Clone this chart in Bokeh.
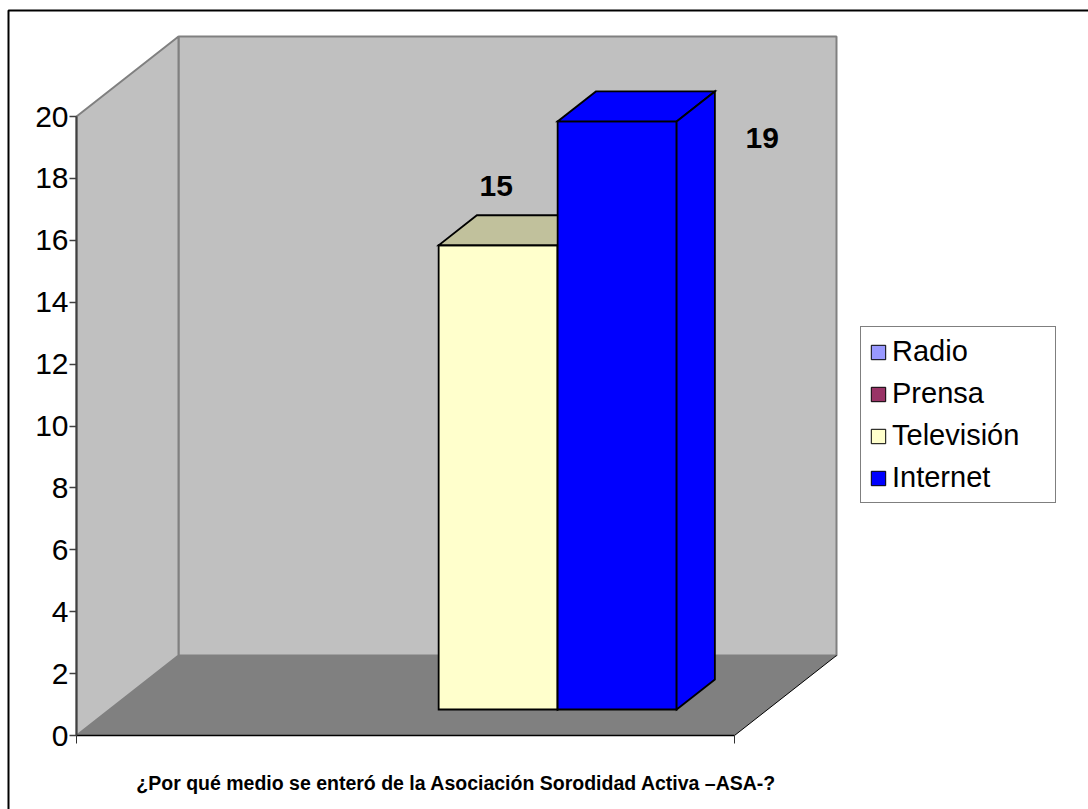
import numpy as np
from bokeh.plotting import figure
from bokeh.models import (ColumnDataSource, LinearAxis, FixedTicker, Legend,
                          LegendItem, Label)
from bokeh.core.properties import value
from bokeh.embed import file_html
from bokeh.resources import INLINE

# ---------------- data ----------------
categories = ["Radio", "Prensa", "Televisión", "Internet"]
counts = [0, 0, 15, 19]
y_ticks = [0, 2, 4, 6, 8, 10, 12, 14, 16, 18, 20]
title_text = "¿Por qué medio se enteró de la Asociación Sorodidad Activa –ASA-?"

# ---------------- styles ----------------
front_colors = ["#9999FF", "#993366", "#FFFFCC", "#0000FF"]
top_colors = ["#7474C2", "#742650", "#C1C19C", "#0000FF"]
side_colors = ["#7474C2", "#742650", "#C1C19C", "#0000FF"]
label_dx = [0, 0, -2, 145]      # px offsets of value labels
label_dy = [0, 0, -59, 17]

W, H = 1088, 809
AX_L, AX_R = 76, 734            # front plane, category span (px)
Y0, Y20 = 735, 116              # pixel rows of 0 and 20
PPU_Y = (Y0 - Y20) / 20.0
PPU_X = float(AX_R - AX_L)
x_start, x_end = -AX_L / PPU_X, (W - AX_L) / PPU_X
y_start, y_end = -(H - Y0) / PPU_Y, Y0 / PPU_Y
DX, DY = 102 / PPU_X, 80 / PPU_Y  # depth of the 3D box in data units
Z0, Z1 = 0.325, 0.70              # bar depth span (fraction)
GAP = 1.53
YMAX = 20


def px2x(px):
    return x_start + px / PPU_X


def py2y(py):
    return y_end - py / PPU_Y


p = figure(width=W, height=H, x_range=(x_start, x_end), y_range=(y_start, y_end),
           x_axis_type=None, y_axis_type=None, toolbar_location=None,
           output_backend="svg", min_border=0, min_border_left=0,
           min_border_right=0, min_border_top=0, min_border_bottom=0,
           title=None)
p.outline_line_color = None
p.background_fill_color = "white"
p.border_fill_color = "white"

# ---------------- walls & floor ----------------
p.patch([DX, 1 + DX, 1 + DX, DX], [DY, DY, YMAX + DY, YMAX + DY],
        fill_color="#C0C0C0", line_color="#808080", line_width=2)
p.patch([0, DX, DX, 0], [0, DY, YMAX + DY, YMAX],
        fill_color="#C0C0C0", line_color="#808080", line_width=2)
p.patch([0, 1, 1 + DX, DX], [0, 0, DY, DY], fill_color="#808080", line_color=None)
p.segment(x0=[1], y0=[0], x1=[1 + DX], y1=[DY], line_color="black", line_width=1)

# ---------------- bars ----------------
n = len(categories)
bw = 1.0 / (n + GAP)
lefts = GAP / 2 * bw + np.arange(n) * bw
xs, ys, fills = [], [], []
lab_x, lab_y, lab_t, lab_dx, lab_dy = [], [], [], [], []
for i in range(n):
    v = counts[i]
    if v <= 0:
        continue
    l, r = lefts[i], lefts[i] + bw
    fx0, fx1 = l + Z0 * DX, r + Z0 * DX
    bx0, bx1 = l + Z1 * DX, r + Z1 * DX
    fy, by = Z0 * DY, Z1 * DY
    # front
    xs.append([fx0, fx1, fx1, fx0]); ys.append([fy, fy, v + fy, v + fy]); fills.append(front_colors[i])
    # top
    xs.append([fx0, fx1, bx1, bx0]); ys.append([v + fy, v + fy, v + by, v + by]); fills.append(top_colors[i])
    # side
    xs.append([fx1, bx1, bx1, fx1]); ys.append([fy, by, v + by, v + fy]); fills.append(side_colors[i])
    lab_x.append((fx0 + fx1) / 2); lab_y.append(v + fy); lab_t.append(str(v))
    lab_dx.append(label_dx[i]); lab_dy.append(label_dy[i])

bars_src = ColumnDataSource(dict(xs=xs, ys=ys, fill=fills))
p.patches("xs", "ys", source=bars_src, fill_color="fill", line_color="black",
          line_width=1.8, line_join="miter")

lab_src = ColumnDataSource(dict(x=lab_x, y=lab_y, t=lab_t, dx=lab_dx, dy=lab_dy))
p.text("x", "y", text="t", source=lab_src, x_offset="dx", y_offset="dy",
       text_font=value("Liberation Sans"), text_font_style="bold",
       text_font_size="30px", text_align="center", text_baseline="middle",
       text_color="black")

# ---------------- legend glyphs (degenerate, hidden under axis origin) ----------------
items = []
for c, col in zip(categories, front_colors):
    r = p.quad(left=[0], right=[0], top=[0], bottom=[0], fill_color=col,
               line_color="black", line_width=1)
    items.append(LegendItem(label=value(c), renderers=[r]))

# ---------------- axes ----------------
yaxis = LinearAxis(fixed_location=0, bounds=(0, YMAX), ticker=FixedTicker(ticks=y_ticks))
yaxis.major_label_text_font = "Liberation Sans"
yaxis.major_label_text_font_size = "30px"
yaxis.major_label_text_color = "black"
yaxis.major_label_standoff = 1
yaxis.major_tick_out = 7
yaxis.major_tick_in = 0
yaxis.minor_tick_out = 0
yaxis.minor_tick_in = 0
yaxis.axis_line_color = "#404040"
yaxis.axis_line_width = 2
yaxis.major_tick_line_color = "#404040"
yaxis.major_tick_line_width = 1.5
p.add_layout(yaxis, "left")

xaxis = LinearAxis(fixed_location=0, bounds=(0, 1), ticker=FixedTicker(ticks=[0, 1]))
xaxis.major_label_text_color = None
xaxis.major_tick_out = 8
xaxis.major_tick_in = 0
xaxis.minor_tick_out = 0
xaxis.minor_tick_in = 0
xaxis.axis_line_color = "black"
xaxis.axis_line_width = 1.5
xaxis.major_tick_line_color = "#303030"
p.add_layout(xaxis, "below")

# ---------------- legend ----------------
LEG_PAD, LEG_H_ITEM, LEG_SP = 8, 33, 9
leg_h = 2 * LEG_PAD + 4 * LEG_H_ITEM + 3 * LEG_SP
legend = Legend(items=items, location=(860, H - 328 - leg_h),
                label_text_font="Liberation Sans", label_text_font_size="29px",
                label_text_color="black",
                glyph_width=18, glyph_height=18, label_standoff=5,
                label_height=LEG_H_ITEM, label_width=155, spacing=LEG_SP,
                padding=LEG_PAD, margin=0, border_line_color="black",
                border_line_width=1, background_fill_color="white",
                background_fill_alpha=1.0)
p.add_layout(legend)

# ---------------- title & frame ----------------
p.add_layout(Label(x=456, y=H - 782, x_units="screen", y_units="screen",
                   text=title_text, text_align="center", text_baseline="middle",
                   text_font="Liberation Sans", text_font_style="bold",
                   text_font_size="19.5px", text_color="black"))
p.line([px2x(8), px2x(8), px2x(W + 5)], [py2y(H + 5), py2y(10), py2y(10)],
       line_color="black", line_width=2)

open("out.html", "w").write(file_html(p, INLINE))
